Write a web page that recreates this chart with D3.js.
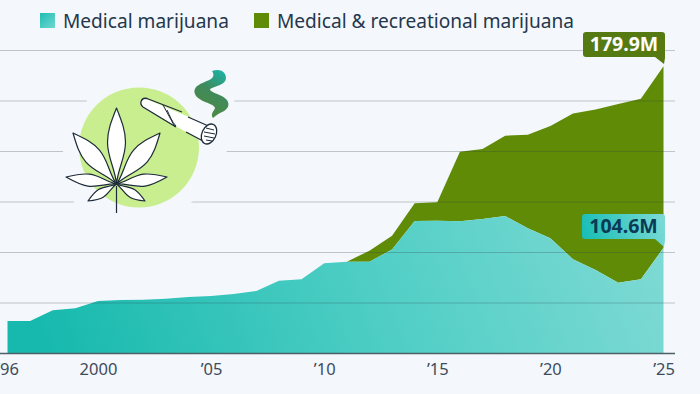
<!DOCTYPE html>
<html><head><meta charset="utf-8">
<script src="https://cdn.jsdelivr.net/npm/d3@7"></script>
<style>html,body{margin:0;padding:0;background:#f4f7fb;overflow:hidden}svg{display:block}text{font-family:"Noto Sans",sans-serif}</style>
</head><body><svg id="c" width="700" height="394"></svg>
<script>
const years=d3.range(1996,2026);
const medical=[32.2,32.2,42.8,44.8,52,53,53.3,54.3,56,57,58.9,61.9,72,73.5,89.3,90.9,90.9,103,131.2,131.5,130.9,133.2,136.1,124,114,93.3,82.7,70.1,73.5,104.6];
const recreational=[0,0,0,0,0,0,0,0,0,0,0,0,0,0,0,0,10.9,13.6,17.5,18.2,68.9,69.3,79.5,92.6,111.2,144.3,158.9,176.9,178.8,179.9];
const gridValues=[50,100,150,200,250,300];
const tickYears=[1996,2000,2005,2010,2015,2020,2025];
const tickLabels=["’96","2000","’05","’10","’15","’20","’25"];
const seriesNames=["Medical marijuana","Medical & recreational marijuana"];
const endLabels=["179.9M","104.6M"];

const svg=d3.select("#c");
const x=d3.scaleLinear().domain([1996,2025]).range([7.5,663.5]);
const y=d3.scaleLinear().domain([0,300]).range([353.5,50.5]);
const defs=svg.append("defs");
function grad(id,coords,stops){
  const g=defs.append("linearGradient").attr("id",id).attr("gradientUnits","userSpaceOnUse")
    .attr("x1",coords[0]).attr("y1",coords[1]).attr("x2",coords[2]).attr("y2",coords[3]);
  stops.forEach(s=>g.append("stop").attr("offset",s[0]).attr("stop-color",s[1]));
}
grad("teal",[60,380,640,160],[[0,"#17b9ae"],[0.55,"#52cfc6"],[1,"#80dad4"]]);
grad("tealBox",[582,239,665,214],[[0,"#16bdb5"],[1,"#7fdad6"]]);
grad("tealKey",[40,12,55,27],[[0,"#1cbcb2"],[1,"#6dd6cf"]]);
grad("smoke",[198,112,222,72],[[0,"#4f8a42"],[0.55,"#3f8a5c"],[1,"#1fb0a0"]]);

svg.append("rect").attr("width",700).attr("height",394).attr("fill","#f4f7fb");

// areas
const areaMed=d3.area().x((d,i)=>x(years[i])).y0(y(0)).y1(d=>y(d));
const areaRec=d3.area().x((d,i)=>x(years[i])).y0((d,i)=>y(medical[i])).y1((d,i)=>y(medical[i]+d));
svg.append("path").datum(recreational).attr("d",areaRec).attr("fill","#5f8b06");
svg.append("path").datum(medical).attr("d",areaMed).attr("fill","url(#teal)");

// grid
svg.append("g").selectAll("line").data(gridValues).join("line")
  .attr("x1",0).attr("x2",675).attr("y1",d=>y(d)).attr("y2",d=>y(d))
  .attr("stroke","#2f3f4f").attr("stroke-opacity",0.27).attr("stroke-width",1);
const axis=d3.axisBottom(x).tickValues(tickYears).tickSize(0).tickFormat((d,i)=>tickLabels[i]);
const ax=svg.append("g").attr("transform",`translate(0,${y(0)})`).call(axis);
ax.select(".domain").remove();
ax.selectAll("text").attr("dy",0).attr("y",21.5).attr("font-size",16.5).attr("fill","#3d4c5c").style("font-family",'"Noto Sans",sans-serif');
svg.append("line").attr("x1",0).attr("x2",675).attr("y1",y(0)).attr("y2",y(0)).attr("stroke","#4d6068").attr("stroke-width",1.6);

// legend
svg.append("rect").attr("x",40).attr("y",13).attr("width",15).attr("height",15).attr("fill","url(#tealKey)");
svg.append("rect").attr("x",254).attr("y",13).attr("width",15).attr("height",15).attr("fill","#5f8b06");
svg.append("text").attr("x",63).attr("y",28).attr("font-size",19.1).attr("fill","#24374d").text(seriesNames[0]);
svg.append("text").attr("x",277).attr("y",28).attr("font-size",19.1).attr("fill","#24374d").text(seriesNames[1]);

// icon
const icon=svg.append("g");
icon.append("path").attr("d","M92,90L236,90L227,151L193,201L180,212L76,212L63,151Z").attr("fill","#f4f7fb");
icon.append("circle").attr("cx",139).attr("cy",147.5).attr("r",60).attr("fill","#c9ee8f");
const ink="#1d2b3a";
const cx=116.5,cy=184;
const leaf=(tx,ty,w)=>{
  const dx=tx-cx,dy=ty-cy,l=Math.hypot(dx,dy),nx=-dy/l,ny=dx/l;
  const p=(t,s)=>[cx+dx*t+nx*s*w,cy+dy*t+ny*s*w];
  const a=p(.55,1),b=p(.82,.6),c=p(.55,-1),d=p(.82,-.6);
  return `M${cx},${cy}C${p(.2,.15)} ${p(.35,1)} ${a}C${p(.7,1)} ${b} ${tx},${ty}C${d} ${p(.7,-1)} ${c}C${p(.35,-1)} ${p(.2,-.15)} ${cx},${cy}Z`;
};
const leaves=[[73,133,9],[160,133,9],[66,177,6],[167,177,6],[88,201,4.5],[145,201,4.5],[116.5,108,9]];
icon.selectAll("path.leaf").data(leaves).join("path").attr("class","leaf")
  .attr("d",d=>leaf(d[0],d[1],d[2])).attr("fill","#fff").attr("stroke",ink).attr("stroke-width",1.2).attr("stroke-linejoin","round");
icon.append("line").attr("x1",cx).attr("x2",cx).attr("y1",186).attr("y2",213).attr("stroke",ink).attr("stroke-width",1.2);
// joint
icon.append("path").attr("d","M145,98.5L214,127.5C218,130 217,142 208,144L202,141L143,107.5C139,105 140,99 145,98.5Z")
  .attr("fill","#fff");
icon.append("path").attr("d","M182,112L147,98.5C141,97 139,104 143,107L176,127M186,132L203,141M188,117L213,128")
  .attr("fill","none").attr("stroke",ink).attr("stroke-width",1.3);
icon.append("path").attr("d","M163,105L175,127M167,110C170,116 172,122 176,126")
  .attr("fill","none").attr("stroke",ink).attr("stroke-width",1);
icon.append("ellipse").attr("cx",209).attr("cy",134).attr("rx",7).attr("ry",10.5).attr("transform","rotate(25 209 134)")
  .attr("fill","#fff").attr("stroke",ink).attr("stroke-width",1.3);
icon.append("path").attr("d","M206,128L214,130M204,132L215,134M204,136L214,138M206,140L212,141").attr("stroke",ink).attr("stroke-width",1).attr("fill","none");
// smoke
icon.append("path").attr("d","M212,71C220,68 226,72 226,78C226,85 215,86 210,89C210,93 222,94 227,100C231,106 226,111 220,113C217,115 215,116 213,118C210,114 214,111 215,108C214,103 198,102 195,94C192,85 204,83 211,79C214,77 214,74 212,71Z").attr("fill","url(#smoke)");

// end labels
function tag(x0,y0,w,h,fill,txt,color,tipY){
  const r=3,xr=x0+w;
  svg.append("path").attr("d",`M${x0+r},${y0}H${xr-r}Q${xr},${y0} ${xr},${y0+r}V${y0+h+1}L${xr-1},${tipY}L${xr-10},${y0+h}H${x0+r}Q${x0},${y0+h} ${x0},${y0+h-r}V${y0+r}Q${x0},${y0} ${x0+r},${y0}Z`)
    .attr("fill",fill);
  svg.append("text").attr("x",x0+w/2).attr("y",y0+19).attr("text-anchor","middle").attr("font-size",19.5).attr("font-weight",700).attr("fill",color).text(txt);
}
tag(583,32,82,25,"#567a12",endLabels[0],"#fff",64);
tag(582,214,83,25,"url(#tealBox)",endLabels[1],"#0b3a55",247);
</script></body></html>
